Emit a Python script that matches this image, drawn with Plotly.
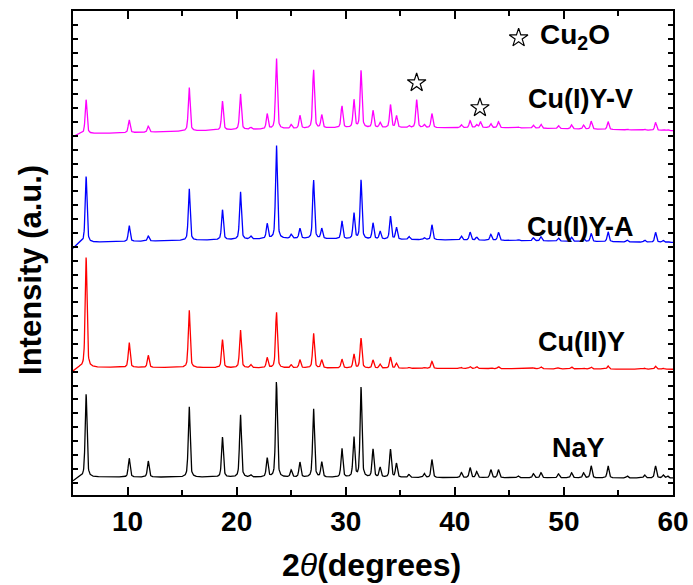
import numpy as np
import plotly.graph_objects as go

# ---- data ----
# common zeolite-Y reflection positions (2theta, degrees)
peak_pos = [6.2, 10.15, 11.9, 15.65, 18.7, 20.35, 21.3, 22.8, 23.65, 25.0,
            25.8, 27.05, 27.8, 29.65, 30.75, 31.4, 32.5, 33.15, 34.1, 34.65,
            35.8, 37.2, 37.9, 40.6, 41.4, 42.0, 43.3, 44.0, 45.8, 47.2,
            47.9, 49.5, 50.7, 51.8, 52.5, 54.05, 55.8, 57.4, 58.4, 59.1, 59.5]

# peak heights (a.u.) for each sample
h_nay = [83, 19, 16, 71, 40, 63, 2, 19, 96, 7,
         15, 69, 15, 29, 40, 90, 28, 10, 28, 14,
         3, 4, 18, 5, 10, 6, 8, 8, 2, 4,
         5, 4, 5, 5, 12, 12, 2, 3, 12, 3, 2]
h_cu2 = [110, 25, 12, 58, 28, 38, 3, 10, 56, 3,
         8, 35, 8, 9, 14, 30, 8, 4, 11, 5,
         1, 1, 7, 1, 2, 2, 1, 2, 0, 1,
         2, 1, 2, 1, 2, 3, 0, 1, 3, 1, 0]
h_cua = [66, 16, 5, 52, 30, 48, 3, 15, 94, 4,
         10, 59, 10, 18, 26, 59, 16, 8, 23, 12,
         3, 2, 15, 4, 8, 3, 6, 8, 1, 3,
         4, 3, 4, 3, 8, 10, 2, 2, 10, 2, 1]
h_cuv = [34, 13, 6, 44, 29, 36, 2, 15, 71, 4,
         13, 59, 13, 22, 28, 57, 17, 5, 23, 12,
         2, 3, 14, 3, 7, 3, 4, 6, 1, 3,
         4, 3, 4, 4, 8, 8, 1, 1, 8, 1, 1]

# extra Cu2O reflections seen in Cu(I)Y-V
cu2o_pos = [36.5, 42.35]
cu2o_h = [28, 6]

# baseline knots (2theta, offset intensity) for each stacked pattern
base_nay_x = [5.0, 5.6, 60.0];  base_nay_y = [14, 18, 17]
base_cu2_x = [5.0, 5.6, 60.0];  base_cu2_y = [124, 128, 126]
base_cua_x = [5.0, 5.6, 10, 25, 45, 60];  base_cua_y = [247, 253, 254, 257, 255, 253]
base_cuv_x = [5.0, 5.6, 10, 20, 30, 45, 60];  base_cuv_y = [359, 362, 363, 366, 368, 368, 365]

labels = ["NaY", "Cu(II)Y", "Cu(I)Y-A", "Cu(I)Y-V"]
colors = ["#000000", "#FF0000", "#0000FF", "#FF00FF"]
label_x = [51.3, 51.6, 51.45, 51.55]
label_y = [47, 153, 269, 397]

star_x = [36.5, 42.3]
star_y = [413, 388]

# ---- build the profiles ----
x = np.arange(5.0, 60.0001, 0.02)
fwhm = 0.2


def profile(pos, hts):
    y = np.zeros_like(x)
    g = fwhm / 2
    for p, h in zip(pos, hts):
        lor = g**2 / ((x - p)**2 + g**2)
        gau = np.exp(-np.log(2) * ((x - p) / g)**2)
        y += h * (0.5 * lor + 0.5 * gau)
    return y


series = [
    (profile(peak_pos, h_nay), base_nay_x, base_nay_y),
    (profile(peak_pos, h_cu2), base_cu2_x, base_cu2_y),
    (profile(peak_pos, h_cua), base_cua_x, base_cua_y),
    (profile(peak_pos + cu2o_pos, h_cuv + cu2o_h), base_cuv_x, base_cuv_y),
]

fig = go.Figure()
for (pk, bx, by), name, col in zip(series, labels, colors):
    fig.add_trace(go.Scatter(x=x, y=pk + np.interp(x, bx, by), mode="lines",
                             line=dict(color=col, width=1.3), name=name,
                             showlegend=False))

fig.add_trace(go.Scatter(x=star_x, y=star_y, mode="markers",
                         marker=dict(symbol="star-open", size=14, color="black",
                                     line=dict(width=1.2, color="black")),
                         showlegend=False))
fig.add_trace(go.Scatter(x=[45.85], y=[458], mode="markers",
                         marker=dict(symbol="star-open", size=14, color="black",
                                     line=dict(width=1.2, color="black")),
                         showlegend=False))

font_fam = "Liberation Sans, Arial, sans-serif"
for t, lx, ly in zip(labels, label_x, label_y):
    fig.add_annotation(x=lx, y=ly, text="<b>%s</b>" % t, showarrow=False,
                       font=dict(family=font_fam, size=27, color="black"),
                       xanchor="center", yanchor="middle")
fig.add_annotation(x=47.6, y=459, text="<b>Cu<sub>2</sub>O</b>", showarrow=False,
                   font=dict(family=font_fam, size=28, color="black"),
                   xanchor="left", yanchor="middle")

fig.add_annotation(xref="paper", yref="paper", x=0.497, y=-0.145,
                   text="<b>2</b><i>θ</i><b>(degrees)</b>", showarrow=False,
                   font=dict(family=font_fam, size=32, color="black"),
                   xanchor="center", yanchor="middle")
fig.add_annotation(xref="paper", yref="paper", x=-0.07, y=0.465,
                   text="<b>Intensity (a.u.)</b>", showarrow=False, textangle=-90,
                   font=dict(family=font_fam, size=31, color="black"),
                   xanchor="center", yanchor="middle")

fig.update_layout(
    width=693, height=585,
    margin=dict(l=73, r=20, t=11, b=90, autoexpand=False),
    plot_bgcolor="white", paper_bgcolor="white",
    xaxis=dict(range=[5, 60], tick0=0, dtick=10, ticks="inside", ticklen=8,
               tickwidth=1.5, tickcolor="black", showline=True, linecolor="black",
               linewidth=2, mirror="allticks", showgrid=False, zeroline=False,
               automargin=False,
               tickfont=dict(family=font_fam, size=28, color="black", weight="bold"),
               minor=dict(dtick=5, tick0=0, ticks="inside", ticklen=5,
                          tickwidth=1.5, tickcolor="black", showgrid=False)),
    yaxis=dict(range=[0, 485], tick0=485, dtick=13.9, ticks="inside", ticklen=5,
               tickwidth=1.5, tickcolor="black", showline=True, linecolor="black",
               linewidth=2, mirror="allticks", showgrid=False, zeroline=False,
               automargin=False, showticklabels=False),
)

fig.write_html("out.html")
